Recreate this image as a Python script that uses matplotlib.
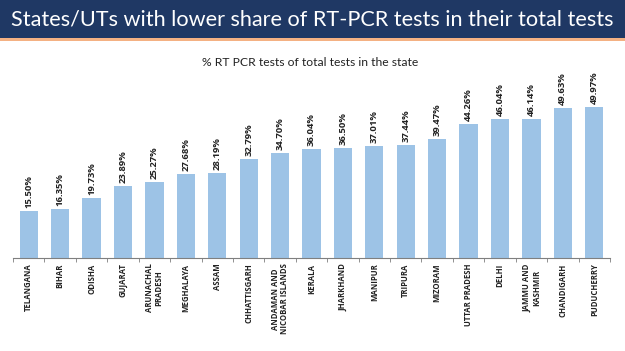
import matplotlib
matplotlib.use("Agg")
import matplotlib.pyplot as plt
import numpy as np
from matplotlib.patches import Rectangle

# % RT-PCR share of total tests
states = ["TELANGANA", "BIHAR", "ODISHA", "GUJARAT", "ARUNACHAL\nPRADESH",
          "MEGHALAYA", "ASSAM", "CHHATTISGARH", "ANDAMAN AND\nNICOBAR ISLANDS",
          "KERALA", "JHARKHAND", "MANIPUR", "TRIPURA", "MIZORAM",
          "UTTAR PRADESH", "DELHI", "JAMMU AND\nKASHMIR", "CHANDIGARH",
          "PUDUCHERRY"]
share = [15.50, 16.35, 19.73, 23.89, 25.27, 27.68, 28.19, 32.79, 34.70,
         36.04, 36.50, 37.01, 37.44, 39.47, 44.26, 46.04, 46.14, 49.63, 49.97]

plt.rcParams['font.family'] = ['Open Sans', 'DejaVu Sans']

fig = plt.figure(figsize=(6.25, 3.51), dpi=100)
fig.patch.set_facecolor("white")

# header band
fig.patches.append(Rectangle((0, 1 - 38/351), 1, 38/351, transform=fig.transFigure,
                             facecolor="#1F3864", edgecolor="none", zorder=0))
fig.patches.append(Rectangle((0, 1 - 41/351), 1, 3/351, transform=fig.transFigure,
                             facecolor="#F4B183", edgecolor="none", zorder=0))
fig.text(0.5, 1 - 20/351, "States/UTs with lower share of RT-PCR tests in their total tests",
         color="white", fontsize=15.6, ha="center", va="center", family="Lato")
fig.text(310/625, 1 - 62/351, "% RT PCR tests of total tests in the state",
         color="#222222", fontsize=8.7, ha="center", va="center", family="Lato")

ax = fig.add_axes([13/625, 1 - 258/351, 597/625, 181/351])
x = np.arange(len(states))
bars = ax.bar(x, share, width=0.58, color="#9DC3E6")
for xi, v in zip(x, share):
    ax.text(xi, v + 1.0, f"{v:.2f}%", rotation=90, ha="center", va="bottom",
            fontsize=6.8, fontweight="bold", color="#222222")

ax.set_xlim(-0.5, len(states) - 0.5)
ax.set_ylim(0, 60)
ax.set_yticks([])
for s in ["top", "right", "left"]:
    ax.spines[s].set_visible(False)
ax.spines["bottom"].set_color("#7f7f7f")
ax.set_xticks(x)
ax.set_xticklabels(states, rotation=90, fontsize=5.6, fontweight="bold",
                   color="#222222", linespacing=1.1)
ax.tick_params(axis="x", length=0, pad=4)
ax.set_xticks(np.arange(-0.5, len(states)), minor=True)
ax.tick_params(axis="x", which="minor", length=3, color="#7f7f7f")

fig.savefig("out.png", dpi=100)
